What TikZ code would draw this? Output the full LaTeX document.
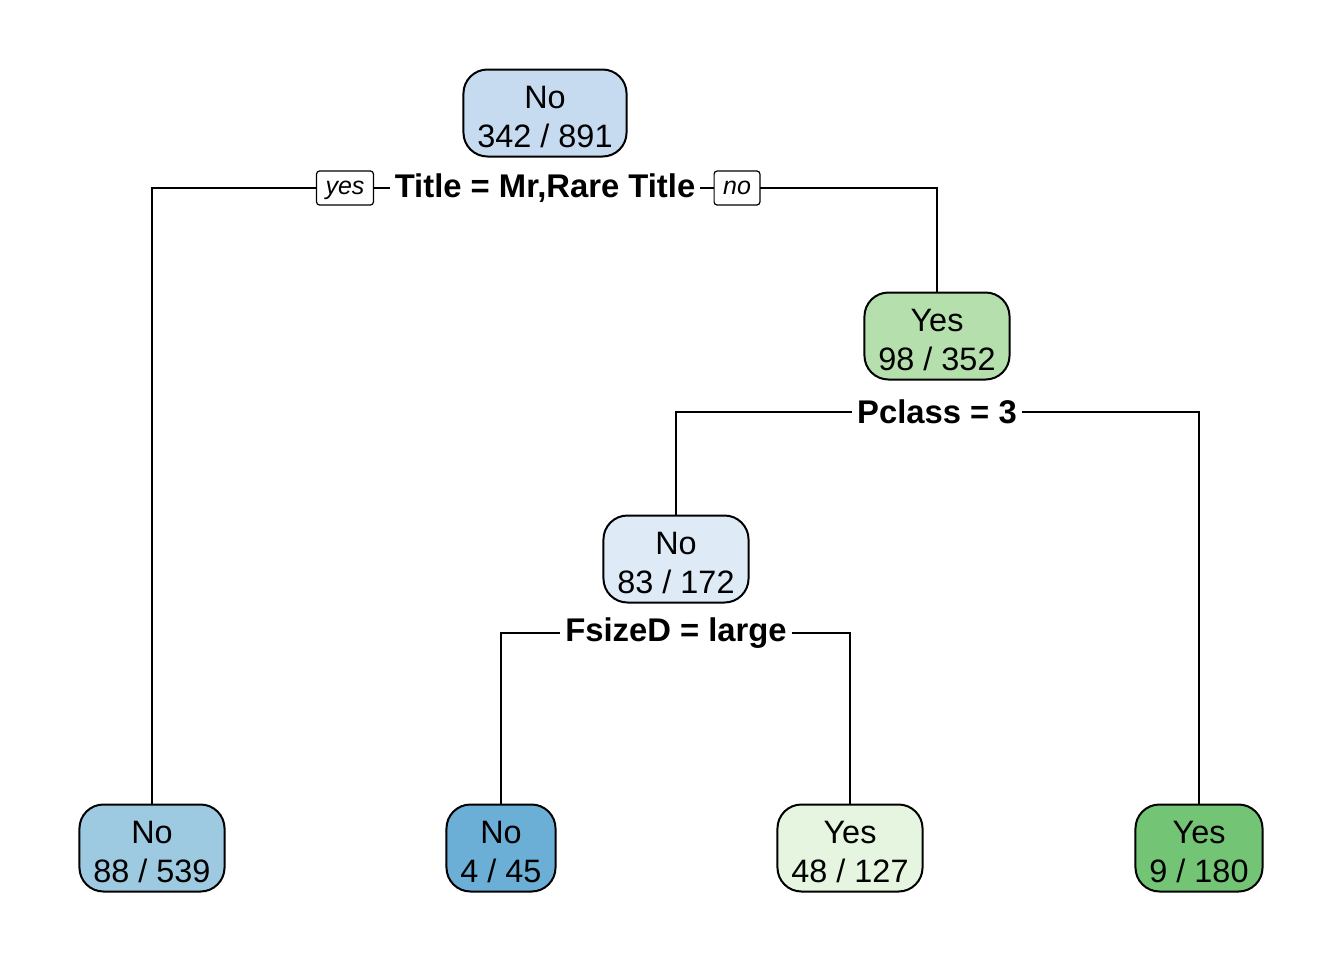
\documentclass[tikz,border=0pt]{standalone}
\usepackage{fontspec}
\setmainfont{Liberation Sans}
\usepackage{xcolor}
\definecolor{rootblue}{HTML}{C6DBEF}
\definecolor{paleblue}{HTML}{DEEBF7}
\definecolor{midblue}{HTML}{9ECAE1}
\definecolor{deepblue}{HTML}{6BAED6}
\definecolor{palegreen}{HTML}{E5F5E0}
\definecolor{midgreen}{HTML}{B5E0AD}
\definecolor{deepgreen}{HTML}{74C476}
\newcommand\fitlabel[2]{\rule{0pt}{15pt}#1\\#2}
\tikzset{
 leafbox/.style={draw=black, line width=1pt, rounded corners=12pt, align=center,
   inner xsep=7pt, minimum height=43.5pt, font=\fontsize{16.2}{19.3}\selectfont},
 splitlab/.style={fill=white, inner xsep=2pt, inner ysep=1pt, font=\bfseries\fontsize{16.4}{18}\selectfont},
 dirlab/.style={draw=black, fill=white, line width=0.6pt, rounded corners=1.5pt, inner xsep=4.5pt,
   text height=8pt, text depth=2pt, minimum height=17pt, font=\itshape\fontsize{12.5}{14}\selectfont},
}
\begin{document}
\begin{tikzpicture}[x=0.5pt, y=-0.5pt, line width=0.9pt]
\useasboundingbox[fill=white] (0,0) rectangle (1344,960);
% nodes
\node[leafbox, fill=rootblue]  (n1) at (545,113) {\fitlabel{No}{342 / 891}};
\node[leafbox, fill=midgreen]  (n3) at (937,336) {\fitlabel{Yes}{98 / 352}};
\node[leafbox, fill=paleblue]  (n6) at (676,559) {\fitlabel{No}{83 / 172}};
\node[leafbox, fill=midblue]   (n2) at (152,848) {\fitlabel{No}{88 / 539}};
\node[leafbox, fill=deepblue]  (n12) at (501,848) {\fitlabel{No}{4 / 45}};
\node[leafbox, fill=palegreen] (n13) at (850,848) {\fitlabel{Yes}{48 / 127}};
\node[leafbox, fill=deepgreen] (n7) at (1199,848) {\fitlabel{Yes}{9 / 180}};
% splits
\node[splitlab] (s1) at (545,188) {Title = Mr,Rare Title};
\node[splitlab] (s3) at (937,412) {Pclass = 3};
\node[splitlab] (s6) at (676,633) {FsizeD = large};
\draw (s1.west) -| (n2.north);
\draw (s1.east) -| (n3.north);
\draw (s3.west) -| (n6.north);
\draw (s3.east) -| (n7.north);
\draw (s6.west) -| (n12.north);
\draw (s6.east) -| (n13.north);
\node[dirlab] (yes) at (345,188) {yes};
\node[dirlab] (no) at (737,188) {no};
\end{tikzpicture}
\end{document}
